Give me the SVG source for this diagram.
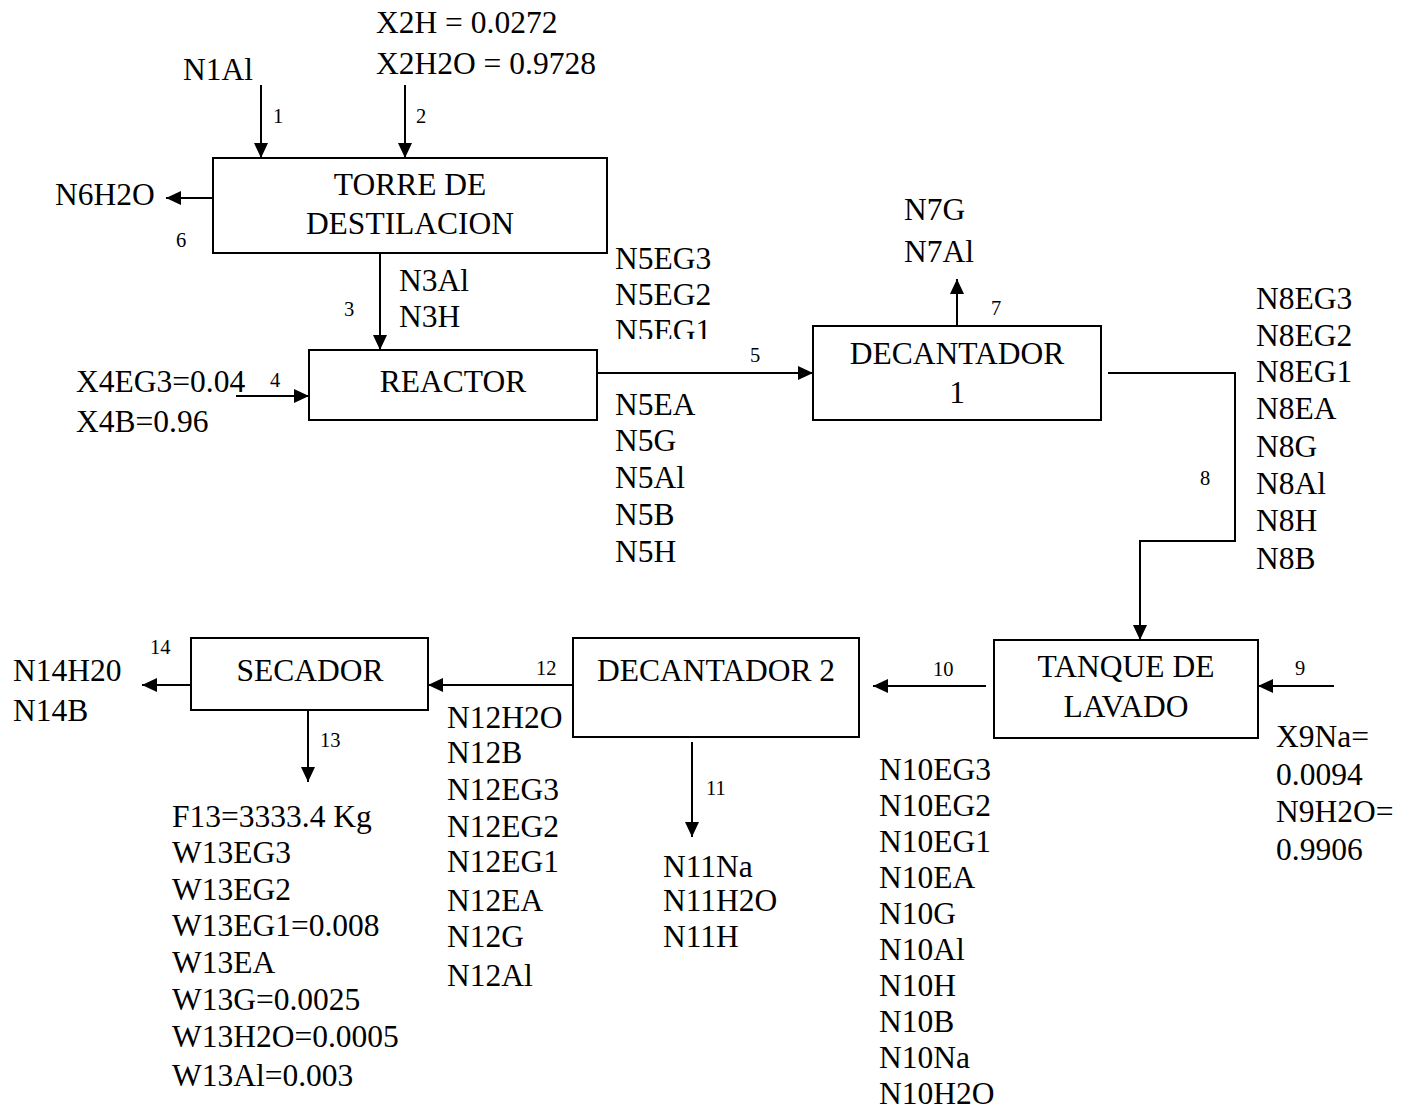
<svg xmlns="http://www.w3.org/2000/svg" width="1409" height="1113" viewBox="0 0 1409 1113">
<style>
text{font-family:"Liberation Serif","Times New Roman",serif;font-size:31.5px;fill:#000}
.n{font-size:20.5px}
.c{text-anchor:middle}
.box{fill:#fff;stroke:#000;stroke-width:2}
.ln{fill:none;stroke:#000;stroke-width:2}
</style>
<defs>
<marker id="ah" markerUnits="userSpaceOnUse" markerWidth="16" markerHeight="14" refX="15" refY="7" orient="auto">
<path d="M0,0 L15,7 L0,14 z" fill="#000"/>
</marker>
<clipPath id="clip5"><rect x="600" y="240" width="200" height="99"/></clipPath>
</defs>
<rect width="1409" height="1113" fill="#fff"/>
<g id="connectors">
<line class="ln" x1="261" y1="85" x2="261" y2="158" marker-end="url(#ah)"/>
<line class="ln" x1="405" y1="85" x2="405" y2="158" marker-end="url(#ah)"/>
<line class="ln" x1="213" y1="198" x2="166" y2="198" marker-end="url(#ah)"/>
<line class="ln" x1="380" y1="253" x2="380" y2="350" marker-end="url(#ah)"/>
<line class="ln" x1="236" y1="396" x2="309" y2="396" marker-end="url(#ah)"/>
<line class="ln" x1="597" y1="373" x2="813" y2="373" marker-end="url(#ah)"/>
<line class="ln" x1="957" y1="326" x2="957" y2="279" marker-end="url(#ah)"/>
<polyline class="ln" points="1108,373 1235,373 1235,541 1140,541 1140,640" marker-end="url(#ah)"/>
<line class="ln" x1="1334" y1="686" x2="1258" y2="686" marker-end="url(#ah)"/>
<line class="ln" x1="986" y1="686" x2="873" y2="686" marker-end="url(#ah)"/>
<line class="ln" x1="692" y1="742" x2="692" y2="837" marker-end="url(#ah)"/>
<line class="ln" x1="573" y1="685" x2="428" y2="685" marker-end="url(#ah)"/>
<line class="ln" x1="191" y1="685" x2="142" y2="685" marker-end="url(#ah)"/>
<line class="ln" x1="308" y1="710" x2="308" y2="782" marker-end="url(#ah)"/>
<text class="n" x="273" y="123">1</text>
<text class="n" x="416" y="123">2</text>
<text class="n" x="344" y="316">3</text>
<text class="n" x="270" y="387">4</text>
<text class="n" x="750" y="362">5</text>
<text class="n" x="176" y="247">6</text>
<text class="n" x="991" y="315">7</text>
<text class="n" x="1200" y="485">8</text>
<text class="n" x="1295" y="675">9</text>
<text class="n" x="933" y="676">10</text>
<text class="n" x="706" y="795">11</text>
<text class="n" x="536" y="675">12</text>
<text class="n" x="320" y="747">13</text>
<text class="n" x="150" y="654">14</text>
</g>
<g id="torre">
<rect class="box" x="213" y="158" width="394" height="95"/>
<text class="c" x="410" y="195">TORRE DE</text>
<text class="c" x="410" y="234">DESTILACION</text>
</g>
<g id="reactor">
<rect class="box" x="309" y="350" width="288" height="70"/>
<text class="c" x="453" y="392">REACTOR</text>
</g>
<g id="decantador1">
<rect class="box" x="813" y="326" width="288" height="94"/>
<text class="c" x="957" y="364">DECANTADOR</text>
<text class="c" x="957" y="403">1</text>
</g>
<g id="tanque">
<rect class="box" x="994" y="640" width="264" height="98"/>
<text class="c" x="1126" y="677">TANQUE DE</text>
<text class="c" x="1126" y="717">LAVADO</text>
</g>
<g id="decantador2">
<rect class="box" x="573" y="638" width="286" height="99"/>
<text class="c" x="716" y="681">DECANTADOR 2</text>
</g>
<g id="secador">
<rect class="box" x="191" y="638" width="237" height="72"/>
<text class="c" x="310" y="681">SECADOR</text>
</g>
<g id="labels">
<text x="183" y="80">N1Al</text>
<text x="376" y="33">X2H = 0.0272</text>
<text x="376" y="74">X2H2O = 0.9728</text>
<text x="55" y="205">N6H2O</text>
<text x="399" y="291">N3Al</text>
<text x="399" y="327">N3H</text>
<text x="76" y="392">X4EG3=0.04</text>
<text x="76" y="432">X4B=0.96</text>
<text x="615" y="269">N5EG3</text>
<text x="615" y="305">N5EG2</text>
<text x="615" y="341" clip-path="url(#clip5)">N5EG1</text>
<text x="615" y="415">N5EA</text>
<text x="615" y="451">N5G</text>
<text x="615" y="488">N5Al</text>
<text x="615" y="525">N5B</text>
<text x="615" y="562">N5H</text>
<text x="904" y="220">N7G</text>
<text x="904" y="262">N7Al</text>
<text x="1256" y="309">N8EG3</text>
<text x="1256" y="346">N8EG2</text>
<text x="1256" y="382">N8EG1</text>
<text x="1256" y="419">N8EA</text>
<text x="1256" y="457">N8G</text>
<text x="1256" y="494">N8Al</text>
<text x="1256" y="531">N8H</text>
<text x="1256" y="569">N8B</text>
<text x="1276" y="747">X9Na=</text>
<text x="1276" y="785">0.0094</text>
<text x="1276" y="822">N9H2O=</text>
<text x="1276" y="860">0.9906</text>
<text x="879" y="780">N10EG3</text>
<text x="879" y="816">N10EG2</text>
<text x="879" y="852">N10EG1</text>
<text x="879" y="888">N10EA</text>
<text x="879" y="924">N10G</text>
<text x="879" y="960">N10Al</text>
<text x="879" y="996">N10H</text>
<text x="879" y="1032">N10B</text>
<text x="879" y="1068">N10Na</text>
<text x="879" y="1104">N10H2O</text>
<text x="663" y="877">N11Na</text>
<text x="663" y="911">N11H2O</text>
<text x="663" y="947">N11H</text>
<text x="447" y="728">N12H2O</text>
<text x="447" y="763">N12B</text>
<text x="447" y="800">N12EG3</text>
<text x="447" y="837">N12EG2</text>
<text x="447" y="872">N12EG1</text>
<text x="447" y="911">N12EA</text>
<text x="447" y="947">N12G</text>
<text x="447" y="986">N12Al</text>
<text x="13" y="681">N14H20</text>
<text x="13" y="721">N14B</text>
<text x="172" y="827">F13=3333.4 Kg</text>
<text x="172" y="863">W13EG3</text>
<text x="172" y="900">W13EG2</text>
<text x="172" y="936">W13EG1=0.008</text>
<text x="172" y="973">W13EA</text>
<text x="172" y="1010">W13G=0.0025</text>
<text x="172" y="1047">W13H2O=0.0005</text>
<text x="172" y="1086">W13Al=0.003</text>
</g>
</svg>
